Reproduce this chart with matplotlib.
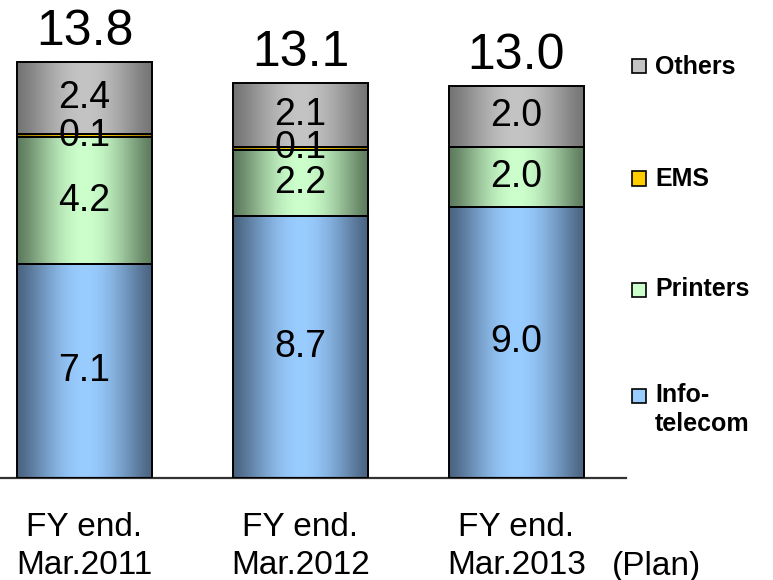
import numpy as np
import matplotlib
matplotlib.use("Agg")
import matplotlib.pyplot as plt
from matplotlib.patches import Rectangle
from matplotlib.colors import to_rgb
from matplotlib.transforms import blended_transform_factory

plt.rcParams["font.family"] = ["Liberation Sans", "DejaVu Sans"]

# ── data (sales by segment, per fiscal year) ──────────────────────
periods = ["Mar.2011", "Mar.2012", "Mar.2013"]
info_telecom = [7.1, 8.7, 9.0]
printers = [4.2, 2.2, 2.0]
ems = [0.1, 0.1, 0.0]
others = [2.4, 2.1, 2.0]
totals = [13.8, 13.1, 13.0]

segments = [
    ("Info-\ntelecom", info_telecom, "#4a6481", "#99ccff"),
    ("Printers", printers, "#5d7a5d", "#ccffcc"),
    ("EMS", ems, "#9a7b00", "#ffcc00"),
    ("Others", others, "#747474", "#c4c4c4"),
]

W, H = 773, 580
fig = plt.figure(figsize=(W / 100, H / 100), dpi=100)


def fx(px):
    return px / W


def fy(py):
    return 1 - py / H


ax = fig.add_axes([0, fy(478), fx(626), fy(26) - fy(478)])
x = np.arange(len(periods))
bar_w = 0.625


def gradient(edge, center, n=256):
    u = np.linspace(0, 1, n)
    s = np.sin(np.pi * u) ** 1.3
    e, c = np.array(to_rgb(edge)), np.array(to_rgb(center))
    row = e[None, :] + (c - e)[None, :] * s[:, None]
    return row[None, :, :]


bottom = np.zeros(len(periods))
for name, vals, edge, center in segments:
    img = gradient(edge, center)
    for i, v in enumerate(vals):
        if v <= 0:
            continue
        x0, x1 = x[i] - bar_w / 2, x[i] + bar_w / 2
        y0, y1 = bottom[i], bottom[i] + v
        ax.imshow(img, extent=(x0, x1, y0, y1), aspect="auto",
                  interpolation="bilinear", zorder=2)
        ax.add_patch(Rectangle((x0, y0), bar_w, v, facecolor="none",
                               edgecolor="black", linewidth=1.4, zorder=3))
        ax.text(x[i], y0 + v / 2, f"{v:.1f}", ha="center", va="center",
                fontsize=27, zorder=4)
    bottom += np.array(vals)

for i, t in enumerate(totals):
    ax.annotate(f"{t:.1f}", (x[i], t), xytext=(0, 22),
                textcoords="offset points", ha="center", va="center",
                fontsize=36, annotation_clip=False)

ax.set_xlim(-0.391, 2.507)
ax.set_ylim(0, 15)
for side in ("left", "right", "top"):
    ax.spines[side].set_visible(False)
ax.spines["bottom"].set_linewidth(1.6)
ax.spines["bottom"].set_color("#333333")
ax.set_xticks([])
ax.set_yticks([])

# category labels under each bar
trans = blended_transform_factory(ax.transData, fig.transFigure)
for i, p in enumerate(periods):
    ax.text(x[i], fy(528), "FY end.", transform=trans, ha="center",
            va="center", fontsize=24)
    ax.text(x[i], fy(566), p, transform=trans, ha="center",
            va="center", fontsize=24)
fig.text(fx(657), fy(566), "(Plan)", ha="center", va="center", fontsize=24)

# legend drawn by hand, top to bottom
legend_rows = [("Others", 66.5), ("EMS", 178.5), ("Printers", 289.5),
               ("Info-\ntelecom", 395.5)]
seg_colors = {name: center for name, _, _, center in segments}
for name, py in legend_rows:
    fig.add_artist(Rectangle((fx(632), fy(py + 7)), fx(14), fy(py - 7) - fy(py + 7),
                             transform=fig.transFigure,
                             facecolor=seg_colors[name], edgecolor="black",
                             linewidth=1.2))
    if "\n" in name:
        fig.text(fx(655), fy(py - 12), name, ha="left", va="top",
                 fontsize=18, fontweight="bold", linespacing=1.25)
    else:
        fig.text(fx(655), fy(py), name, ha="left", va="center",
                 fontsize=18, fontweight="bold")

fig.savefig("out.png", dpi=100)
